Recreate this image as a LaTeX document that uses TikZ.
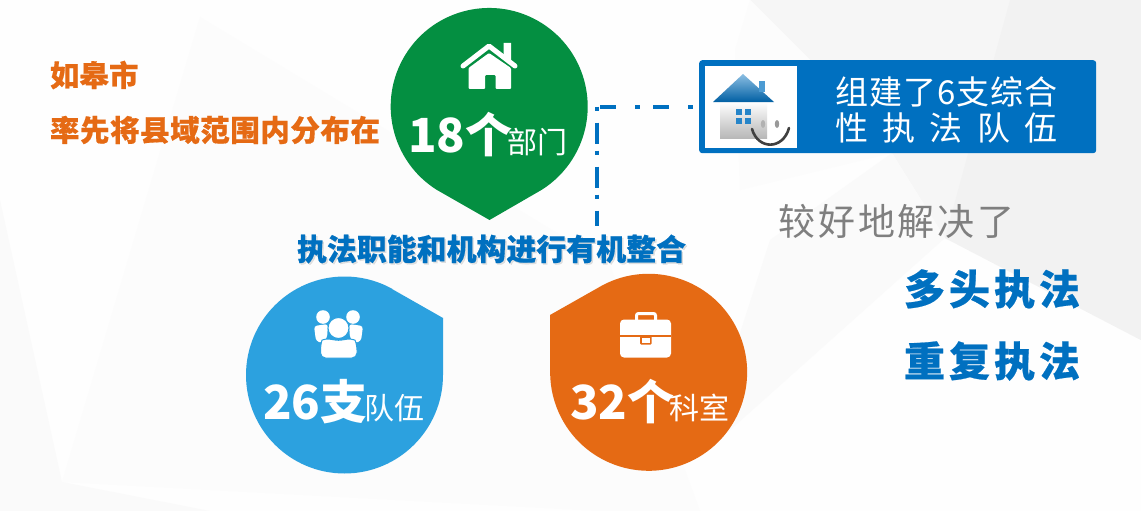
\documentclass[tikz,border=0pt]{standalone}
\usepackage{fontspec}
\setmainfont{Noto Sans CJK SC}
\definecolor{cgreen}{HTML}{048F41}
\definecolor{cblue}{HTML}{2CA1DF}
\definecolor{corange}{HTML}{E56A14}
\definecolor{cdeep}{HTML}{0070C0}
\definecolor{cgray}{HTML}{7F7F7F}
\definecolor{bgBase}{HTML}{FEFEFE}
\definecolor{bgA}{HTML}{F6F6F6}
\definecolor{bgB}{HTML}{F2F2F2}
\definecolor{bgC}{HTML}{FCFCFC}
\definecolor{bgD}{HTML}{FAFAFA}
\newcommand{\spread}[2]{\makebox[#1pt][s]{#2}}
\newcommand{\fsz}[1]{\fontsize{#1pt}{#1pt}\selectfont}
\newcommand{\heavy}{\bfseries\addfontfeature{FakeBold=0.5}}
\tikzset{
  lbl/.style={inner sep=0pt,outer sep=0pt,anchor=west},
  big/.style={lbl,text=white,font=\fsz{47}\bfseries},
  small/.style={lbl,text=white,font=\fsz{30}},
  orangetxt/.style={lbl,text=corange,font=\fsz{29.5}\heavy},
  bluetxt/.style={lbl,text=cdeep,font=\fsz{41}\heavy},
  boxtxt/.style={lbl,text=white,font=\fsz{33}},
  link/.style={cdeep,line width=4pt},
  facet/.style={draw=none}
}
\begin{document}
\begin{tikzpicture}[x=1pt,y=-1pt]
\useasboundingbox (0,0) rectangle (1141,511);
\fill[bgBase] (0,0) rectangle (1141,511);
% background facets
\fill[bgC,facet] (200,17) -- (62,482) -- (600,511) -- (700,511) -- (610,265) -- cycle;
\fill[bgD,facet] (0,200) -- (62,482) -- (45,511) -- (0,511) -- cycle;
\fill[bgD,facet] (62,482) -- (210,511) -- (45,511) -- cycle;
\fill[bgA,facet] (750,0) -- (1141,0) -- (1141,340) -- (945,238) -- (892,153) -- (810,60) -- cycle;
\fill[bgC,facet] (750,0) -- (810,60) -- (892,153) -- (740,190) -- (735,50) -- cycle;
\fill[bgB,facet] (1010,0) -- (1141,0) -- (1141,340) -- (945,238) -- cycle;
\fill[bgD,facet] (892,153) -- (945,238) -- (700,457) -- (770,240) -- cycle;
% green drop
\fill[cgreen] (437,190) arc[start angle=122,end angle=418,radius=98.5] -- (489.5,220) -- cycle;
% blue drop
\fill[cblue] (392,289) -- (443,318) -- (443,375) arc[start angle=0,end angle=299,radius=98.5] -- cycle;
% orange drop
\fill[corange] (550,315) -- (603,285) arc[start angle=242.4,end angle=540,radius=98.5] -- cycle;
% house icon
\fill[white] (503.5,43) -- (511,43) -- (511,61) -- (503.5,55) -- cycle;
\draw[white,line width=5pt,line cap=round,line join=round] (463,66) -- (489,46) -- (515,66);
\fill[white,rounded corners=1pt] (468.5,68) -- (489,53) -- (511,68) -- (511,89) -- (495.5,89) -- (495.5,75) -- (485,75) -- (485,89) -- (468.5,89) -- cycle;
% people icon
\fill[white] (323,317) circle[radius=6.8];
\fill[white] (353,317) circle[radius=6.8];
\fill[white,rounded corners=3pt] (314,326) -- (328,324) -- (327,338) -- (322,343) -- (316,341) -- cycle;
\fill[white,rounded corners=3pt] (363,326) -- (349,324) -- (350,338) -- (355,343) -- (361,341) -- cycle;
\fill[white,draw=cblue,line width=1pt] (338.5,328) circle[radius=10.5];
\fill[white,draw=cblue,line width=1pt,rounded corners=5pt] (320.5,358) -- (320.5,345) .. controls (322,340) and (327,338) .. (338.5,341) .. controls (350,338) and (355,340) .. (357,345) -- (357,358) -- cycle;
% briefcase icon
\draw[white,line width=3pt,rounded corners=2pt] (636.5,322) -- (636.5,313.5) -- (655.5,313.5) -- (655.5,322);
\fill[white,rounded corners=4pt] (620,319.5) rectangle (671,357.5);
\fill[corange] (620,334.5) rectangle (671,337);
\fill[corange,rounded corners=1pt] (640,336) rectangle (651.5,344.5);
\fill[white] (642,338) rectangle (649.5,342.5);
% value labels
\node[big] (n18) at (408,135) {18个};
\node[small] (b18) at (507,142) {部门};
\node[big] (n26) at (263,402) {26支};
\node[small] (b26) at (364,408) {队伍};
\node[big] (n32) at (570,402) {32个};
\node[small] (b32) at (669,408) {科室};
% left text
\node[orangetxt] (t1) at (50,75) {\spread{88.5}{如\hfill 皋\hfill 市}};
\node[orangetxt] (t2) at (50,130) {\spread{330}{率\hfill 先\hfill 将\hfill 县\hfill 域\hfill 范\hfill 围\hfill 内\hfill 分\hfill 布\hfill 在}};
% title
\node[lbl,text=black!25,opacity=.45,font=\fsz{29.9}\heavy] (titleshadow) at (298.5,250.5) {\spread{389}{执\hfill 法\hfill 职\hfill 能\hfill 和\hfill 机\hfill 构\hfill 进\hfill 行\hfill 有\hfill 机\hfill 整\hfill 合}};
\node[lbl,text=cdeep,font=\fsz{29.9}\heavy] (title) at (297,249) {\spread{389}{执\hfill 法\hfill 职\hfill 能\hfill 和\hfill 机\hfill 构\hfill 进\hfill 行\hfill 有\hfill 机\hfill 整\hfill 合}};
% box
\node[draw=none,fill=cdeep,rounded corners=3pt,minimum width=397pt,minimum height=93pt,inner sep=0pt,anchor=north west] (box) at (699,60) {};
\fill[white] (705,66) rectangle (797,148);
% picture in box
\shade[top color=white,bottom color=black!28] (720,102) rectangle (767,138);
\shade[top color=cdeep!45,bottom color=cdeep!85!black] (713,102) -- (743,74) -- (774,102) -- cycle;
\fill[cdeep!70] (759,81) rectangle (765,92);
\fill[cdeep!85] (736,109) rectangle (742,115);
\fill[cdeep!85] (745,109) rectangle (751,115);
\fill[cdeep!85] (736,118) rectangle (742,124);
\fill[cdeep!85] (745,118) rectangle (751,124);
\fill[gray!60] (763,124) ellipse[x radius=2.2,y radius=4];
\fill[gray!80] (777,124) ellipse[x radius=2.2,y radius=4];
\draw[black!75,line width=2.6pt,line cap=round] (752,129) .. controls (758,150) and (783,150) .. (789,128);
% box text
\node[boxtxt] (bt1) at (835,92) {\spread{223}{组\hfill 建\hfill 了\hfill 6\hfill 支\hfill 综\hfill 合}};
\node[boxtxt] (bt2) at (835,128) {\spread{223}{性\hfill 执\hfill 法\hfill 队\hfill 伍}};
% right text
\node[lbl,text=cgray,font=\fsz{37}] (r1) at (778,221) {\spread{237}{较\hfill 好\hfill 地\hfill 解\hfill 决\hfill 了}};
\node[bluetxt] (r2) at (904,289) {\spread{176}{多\hfill 头\hfill 执\hfill 法}};
\node[bluetxt] (r3) at (904,361) {\spread{176}{重\hfill 复\hfill 执\hfill 法}};
% connector
\coordinate (corner) at (597,106.5);
\coordinate (linkend) at (597,226);
\coordinate (boxleft) at (box.west |- corner);
\draw[link,dash pattern=on 16pt off 19pt on 5pt off 13pt,dash phase=-3pt] (corner) -- (boxleft);
\draw[link,dash pattern=on 4pt off 12pt on 21pt off 7pt] (corner) -- (linkend);
\end{tikzpicture}
\end{document}
